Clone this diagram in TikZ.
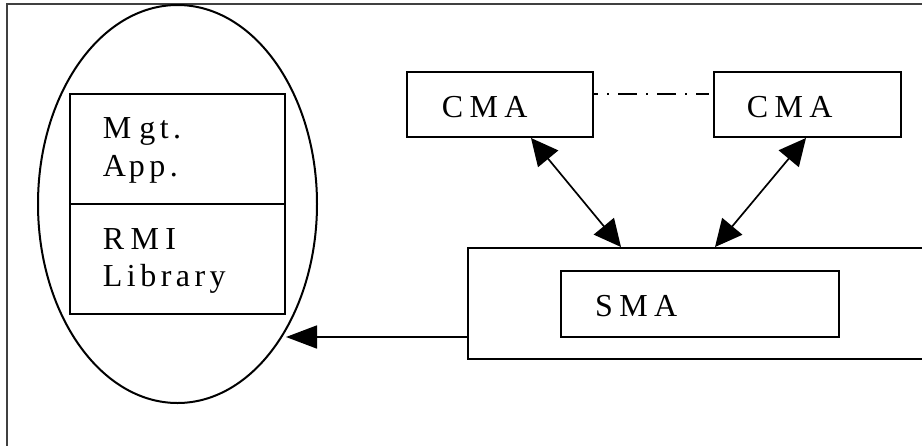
\documentclass[tikz,border=0pt]{standalone}
\usepackage{fontspec}
\setmainfont{Liberation Serif}
\newfontfamily\capsp[LetterSpace=20]{Liberation Serif}
\newfontfamily\lowsp[LetterSpace=14]{Liberation Serif}
\usetikzlibrary{arrows.meta,shapes.geometric}

\tikzset{
  frameline/.style={draw=black!75, line width=1.4pt},
  box/.style={draw, line width=2pt, rectangle, inner sep=0pt},
  oval/.style={draw, line width=2pt, ellipse, inner sep=0pt},
  lbl/.style={anchor=base west, inner sep=0pt, font=\fontsize{32}{38}\selectfont},
  link/.style={line width=1.7pt, -{Triangle[length=31pt,width=23pt]}},
  dlink/.style={line width=1.7pt, {Triangle[length=27pt,width=26pt]}-{Triangle[length=27pt,width=26pt]}},
  peer/.style={line width=1.3pt, dash pattern=on 19pt off 9pt on 2pt off 9pt, dash phase=15pt}
}

\begin{document}
\begin{tikzpicture}[x=1pt,y=-1pt]
  \useasboundingbox (0,0) rectangle (922,445);

  % outer frame (only its top and left edges fall on the page)
  \draw[frameline] (7,4) rectangle (940,460);

  % management station: application over the RMI library
  \node[oval, minimum width=279pt, minimum height=398pt] (station) at (177.5,204) {};
  \node[box, minimum width=215pt, minimum height=110pt] (mgt) at (177.5,149) {};
  \node[box, minimum width=215pt, minimum height=110pt] (rmi) at (177.5,259) {};
  \node[lbl] (mgtA) at (102.7,138) {\lowsp M\kern8pt gt.};
  \node[lbl] (mgtB) at (102.7,176) {\lowsp A\kern3pt pp.};
  \node[lbl] (rmiA) at (102.7,249) {\capsp RMI};
  \node[lbl] (rmiB) at (102.7,286) {\lowsp Library};

  % client management agents
  \node[box, minimum width=186pt, minimum height=65pt] (cmaL) at (500,104.5) {};
  \node[box, minimum width=187pt, minimum height=65pt] (cmaR) at (807.5,104.5) {};
  \node[lbl] (cmaLt) at (441.7,117) {\capsp CMA};
  \node[lbl] (cmaRt) at (746.7,117) {\capsp CMA};

  % server host with its management agent
  \node[box, minimum width=470pt, minimum height=111pt] (host) at (703,303.5) {};
  \node[box, minimum width=278pt, minimum height=66pt] (sma) at (700,304) {};
  \node[lbl] (smat) at (595,316.7) {\capsp SMA};

  % connectors
  \coordinate (peerEnd) at (709,94);
  \draw[peer] (cmaL.east |- peerEnd) -- (peerEnd);
  \draw[dlink] ([xshift=125pt]cmaL.south west) -- ([xshift=154pt]host.north west);
  \draw[dlink] ([xshift=93pt]cmaR.south west) -- ([xshift=248pt]host.north west);
  \coordinate (stationHit) at (286,337);
  \draw[link] (host.west |- stationHit) -- (stationHit);
\end{tikzpicture}
\end{document}
